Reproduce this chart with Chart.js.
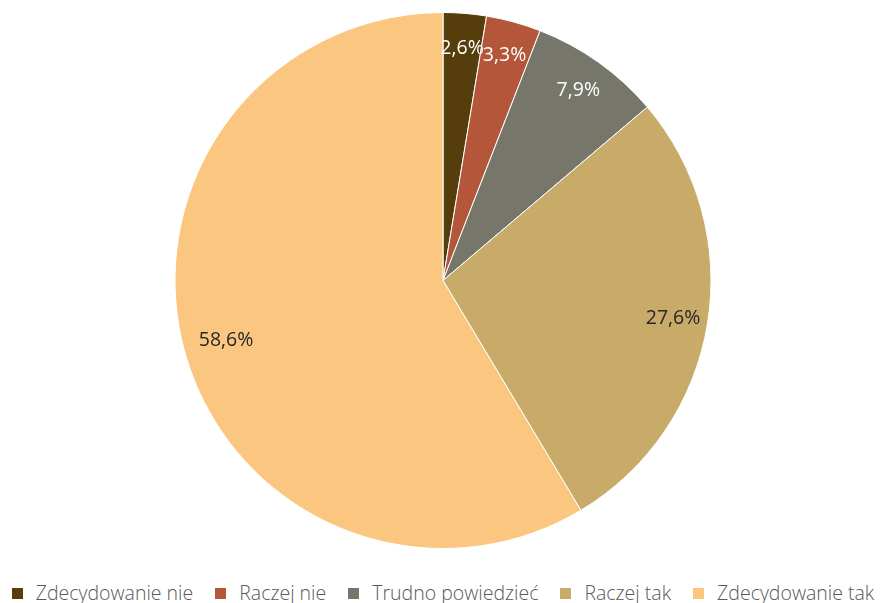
<!DOCTYPE html>
<html>
<head>
<meta charset="utf-8">
<script src="https://cdn.jsdelivr.net/npm/chart.js@4/dist/chart.umd.min.js"></script>
<style>
  html, body { margin: 0; padding: 0; background: #fff; }
  #wrap { width: 880px; height: 560px; position: relative; }
  #legend {
    position: absolute; left: 0; top: 579px; width: 886px; height: 26px;
    display: flex; justify-content: center; align-items: center;
    font-family: 'Open Sans', sans-serif; font-weight: 300; font-size: 19.5px; color: #595959;
    white-space: nowrap;
  }
  #legend .item { display: flex; align-items: center; margin: 0 11px; }
  #legend .box { width: 11px; height: 11px; margin-right: 13px; margin-top: 2px; }
</style>
</head>
<body>
<div id="wrap"><canvas id="pie"></canvas></div>
<div id="legend"></div>
<script>
// odpowiedzi na pytanie
const categories = ["Zdecydowanie nie", "Raczej nie", "Trudno powiedzieć", "Raczej tak", "Zdecydowanie tak"]
const values = [2.6, 3.3, 7.9, 27.6, 58.6]
const colors = ["#553d0c", "#b3563a", "#76766a", "#c9ab69", "#fbc67f"]
const labelColors = ["#ffffff", "#ffffff", "#ffffff", "#262626", "#262626"]

// etykiety z wartościami wewnątrz wycinków
const sliceLabels = {
    id: "sliceLabels",
    afterDatasetsDraw(chart) {
        const c = chart.ctx
        const meta = chart.getDatasetMeta(0)
        c.save()
        c.font = "19.5px 'Open Sans'"
        c.textAlign = "center"
        c.textBaseline = "middle"
        meta.data.forEach((arc, i) => {
            const mid = (arc.startAngle + arc.endAngle) / 2
            const r = arc.outerRadius * (values[i] > 50 ? 0.84 : 0.87)
            c.fillStyle = labelColors[i]
            c.fillText(values[i].toFixed(1).replace(".", ",") + "%", arc.x + Math.cos(mid) * r, arc.y + Math.sin(mid) * r)
        })
        c.restore()
    }
}

// legenda w HTML, żeby zmieściła się w jednym wierszu
function buildLegend(chart) {
    const box = document.getElementById("legend")
    box.innerHTML = ""
    chart.data.labels.forEach((label, i) => {
        const item = document.createElement("div")
        item.className = "item"
        const sw = document.createElement("span")
        sw.className = "box"
        sw.style.background = colors[i]
        const txt = document.createElement("span")
        txt.textContent = label
        item.appendChild(sw)
        item.appendChild(txt)
        box.appendChild(item)
    })
}

const ctx = document.querySelector("#pie")

const myChart = new Chart(ctx, {
    type: "pie",
    data: {
        labels: categories,
        datasets: [{
            data: values,
            backgroundColor: colors,
            borderColor: "#ffffff",
            borderWidth: 1
        }]
    },
    options: {
        animation: false,
        responsive: true,
        maintainAspectRatio: false,
        layout: { padding: { top: 12, left: 6, right: 0, bottom: 11 } },
        plugins: {
            tooltip: { enabled: false },
            legend: { display: false }
        }
    },
    plugins: [sliceLabels]
})

buildLegend(myChart)
</script>
</body>
</html>
